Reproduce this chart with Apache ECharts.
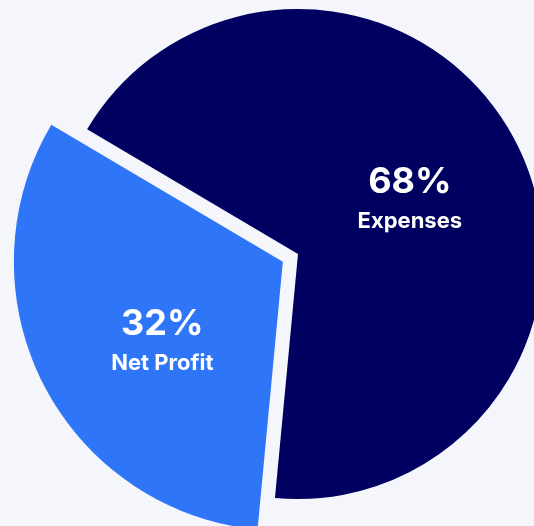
<!DOCTYPE html>
<html>
<head>
<meta charset="utf-8">
<script src="https://cdn.jsdelivr.net/npm/echarts@6/dist/echarts.min.js"></script>
<style>
html,body{margin:0;padding:0;background:#F5F6FB;}
#main{width:534px;height:526px;}
</style>
</head>
<body>
<div id="main"></div>
<script>
const categories = ['Expenses', 'Net Profit'];
const values = [68, 32];
const colors = ['#000060', '#2F75F7'];

const chart = echarts.init(document.getElementById('main'), null, {renderer: 'canvas'});
const CENTER = [298, 254];
const START = 149.4;

function labelFormatter(p) {
  return '{p|' + Math.round(p.percent) + '%}\n{n|' + p.name + '}';
}
const rich = {
  p: {fontFamily: 'Inter', fontSize: 36, fontWeight: 'bold', color: '#fff', lineHeight: 44, align: 'center'},
  n: {fontFamily: 'Inter', fontSize: 22, fontWeight: 'bold', color: '#fff', lineHeight: 34, align: 'center'}
};

function buildData(visibleIdx) {
  return categories.map((c, i) => {
    const item = {name: c, value: values[i]};
    if (i === visibleIdx) {
      item.itemStyle = {color: colors[i]};
      item.label = {show: true, position: 'inside', formatter: labelFormatter, rich: rich};
    } else {
      item.itemStyle = {color: 'rgba(0,0,0,0)'};
      item.label = {show: false};
    }
    return item;
  });
}

const expData = buildData(0);
const npData = buildData(1);
npData[1].selected = true;

chart.setOption({
  backgroundColor: '#F5F6FB',
  animation: false,
  series: [
    {
      type: 'pie',
      center: CENTER,
      radius: 245,
      startAngle: START,
      clockwise: true,
      silent: true,
      labelLine: {show: false},
      emphasis: {scale: false},
      labelLayout: {dx: 0, dy: 2},
      data: expData
    },
    {
      type: 'pie',
      center: CENTER,
      radius: 269,
      startAngle: START,
      clockwise: true,
      selectedMode: 'single',
      selectedOffset: 17,
      silent: true,
      labelLine: {show: false},
      emphasis: {scale: false},
      select: {itemStyle: {color: colors[1]}},
      labelLayout: {dx: 2, dy: 17},
      data: npData
    }
  ]
});
</script>
</body>
</html>
